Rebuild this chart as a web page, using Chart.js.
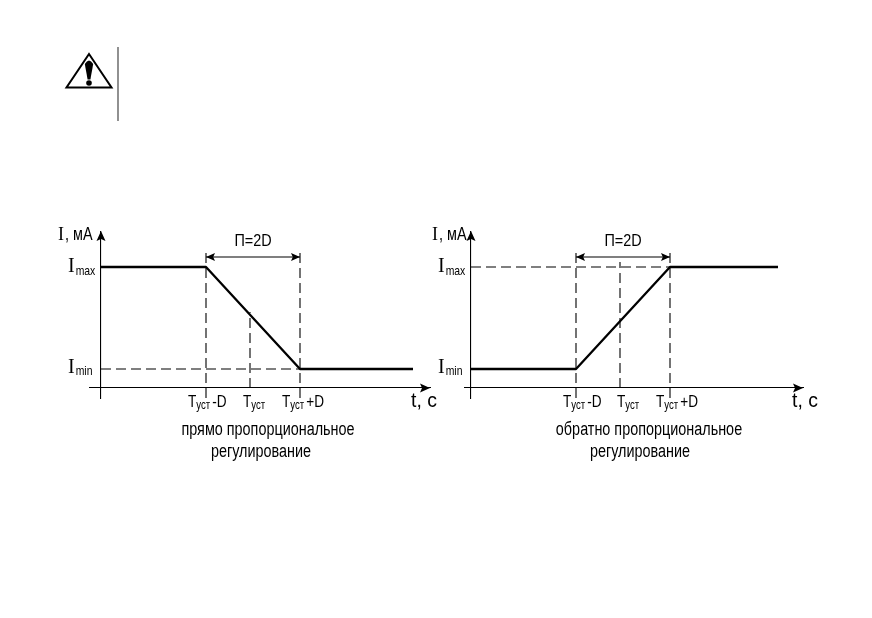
<!DOCTYPE html>
<html lang="ru">
<head>
<meta charset="utf-8">
<title>Регулирование</title>
<script src="https://cdn.jsdelivr.net/npm/chart.js@4"></script>
<style>
  html, body { margin: 0; background: #fff; }
  body { position: relative; width: 872px; height: 618px; overflow: hidden; }
  canvas { position: absolute; top: 210px; }
  #directChart { left: 40px; }
  #reverseChart { left: 425px; }
  #warning { position: absolute; left: 0; top: 0; }
</style>
</head>
<body>
<svg id="warning" width="140" height="130">
  <path d="M89 54 L111.500 87.500 L66.500 87.500 Z" fill="#fff" stroke="#000" stroke-width="2" stroke-linejoin="miter"/>
  <path d="M84.800 64 Q89 57 93.200 64 L90.400 79.500 L87.600 79.500 Z" fill="#000"/>
  <circle cx="89" cy="83" r="2.800" fill="#000"/>
  <line x1="118" y1="47" x2="118" y2="121" stroke="#555" stroke-width="1.300"/>
</svg>
<canvas id="directChart" width="400" height="260"></canvas>
<canvas id="reverseChart" width="400" height="260"></canvas>
<script>
// values are read off the picture, both axes have no real units
const IMIN = 19;
const IMAX = 121;
const T_LOW = 105;    // Tуст-D
const T_SET = 149;    // Tуст
const T_HIGH = 199;   // Tуст+D
const DIM_Y = 131;    // height of the П=2D arrow
const GUIDE_TOP = 138;
const GUIDE_BOTTOM = -10;

const directTimes = [0, T_LOW, T_HIGH, 312];
const directCurrent = [IMAX, IMAX, IMIN, IMIN];
const reverseTimes = [0, T_LOW, T_HIGH, 307];
const reverseCurrent = [IMIN, IMIN, IMAX, IMAX];

const xTickValues = [T_LOW, T_SET, T_HIGH];
const xTickLabels = ['-D', '', '+D'];
const captionsDirect = ['прямо пропорциональное', 'регулирование'];
const captionsReverse = ['обратно пропорциональное', 'регулирование'];

const INK = '#000';
const SANS = '"Liberation Sans", sans-serif';
const SERIF = '"Liberation Serif", serif';
const NARROW_X = 0.8; // the original font is condensed, none is installed

function pts(xs, ys) {
  return xs.map((x, i) => ({ x, y: ys[i] }));
}

function thick(data) {
  return { data, borderColor: INK, borderWidth: 2.3, pointRadius: 0, borderJoinStyle: 'round' };
}

function dashed(data) {
  return { data, borderColor: INK, borderWidth: 1.1, pointRadius: 0, borderDash: [10, 5] };
}

function thin(data) {
  return { data, borderColor: INK, borderWidth: 1.1, pointRadius: 0 };
}

// squeezed text, the anchor stays where textAlign puts it
function squeezed(ctx, text, x, y, sx) {
  ctx.save();
  ctx.translate(x, y);
  ctx.scale(sx, 1);
  ctx.fillText(text, 0, 0);
  ctx.restore();
}

// draws pieces of text one after another, for the subscripts
function drawRuns(ctx, x, y, runs) {
  runs.forEach((r) => {
    const sx = r.sx || NARROW_X;
    ctx.font = r.font;
    squeezed(ctx, r.text, x, y + (r.dy || 0), sx);
    x += ctx.measureText(r.text).width * sx + (r.gap || 0);
  });
}

function arrowHead(ctx, x, y, dx, dy, len, half) {
  ctx.beginPath();
  ctx.moveTo(x, y);
  ctx.lineTo(x - dx * len - dy * half, y - dy * len - dx * half);
  ctx.lineTo(x - dx * len * 0.8, y - dy * len * 0.8);
  ctx.lineTo(x - dx * len + dy * half, y - dy * len + dx * half);
  ctx.closePath();
  ctx.fill();
}

const schemePlugin = {
  id: 'scheme',
  afterDraw(chart, args, opts) {
    const { ctx, scales: { x, y } } = chart;
    const px = (v) => x.getPixelForValue(v);
    const py = (v) => y.getPixelForValue(v);
    ctx.save();
    ctx.fillStyle = INK;
    ctx.textBaseline = 'alphabetic';
    ctx.textAlign = 'left';

    // axis arrows
    arrowHead(ctx, x.right, py(0), 1, 0, 10, 4.5);
    arrowHead(ctx, px(0), y.top - 1, 0, -1, 10, 4.5);
    // П=2D dimension arrows
    arrowHead(ctx, px(T_LOW), py(DIM_Y), -1, 0, 9, 4);
    arrowHead(ctx, px(T_HIGH), py(DIM_Y), 1, 0, 9, 4);

    // y labels
    drawRuns(ctx, px(0) + opts.unitOffset, y.top + 8, [
      { text: 'I', font: '18px ' + SERIF, sx: 1, gap: 1 },
      { text: ', мА', font: '18px ' + SANS },
    ]);
    drawRuns(ctx, px(0) - 33, py(IMAX) + 5, [
      { text: 'I', font: '20px ' + SERIF, sx: 1, gap: 1 },
      { text: 'max', font: '13px ' + SANS, dy: 3 },
    ]);
    drawRuns(ctx, px(0) - 33, py(IMIN) + 4, [
      { text: 'I', font: '20px ' + SERIF, sx: 1, gap: 1 },
      { text: 'min', font: '13px ' + SANS, dy: 2 },
    ]);

    // x labels
    xTickValues.forEach((v, i) => {
      drawRuns(ctx, px(v) + opts.tickOffsets[i], py(0) + 19, [
        { text: 'T', font: '17px ' + SANS },
        { text: 'уст', font: '12px ' + SANS, dy: 2, gap: 2 },
        { text: xTickLabels[i], font: '17px ' + SANS },
      ]);
    });
    drawRuns(ctx, x.right + opts.timeOffset, py(0) + 19, [
      { text: 't, с', font: '20px ' + SANS, sx: 0.97 },
    ]);

    // П=2D and captions
    ctx.textAlign = 'center';
    ctx.font = '16px ' + SANS;
    squeezed(ctx, 'П=2D', px((T_LOW + T_HIGH) / 2), py(DIM_Y) - 11, 0.9);
    ctx.font = '18px ' + SANS;
    squeezed(ctx, opts.captions[0], px(T_SET) + opts.captionOffsets[0], py(0) + 47, NARROW_X);
    squeezed(ctx, opts.captions[1], px(T_SET) + opts.captionOffsets[1], py(0) + 69, NARROW_X);
    ctx.restore();
  },
};

function makeChart(id, panel) {
  new Chart(document.getElementById(id), {
    type: 'line',
    data: { datasets: panel.datasets },
    options: {
      responsive: false,
      animation: false,
      events: [],
      layout: { padding: panel.padding },
      plugins: {
        legend: { display: false },
        tooltip: { enabled: false },
        scheme: panel.scheme,
      },
      scales: {
        x: {
          type: 'linear',
          min: panel.xMin,
          max: panel.xMax,
          position: { y: 0 },
          grid: { display: false },
          ticks: { display: false },
          border: { color: INK, width: 1.1 },
        },
        y: {
          type: 'linear',
          min: GUIDE_BOTTOM,
          max: 156,
          position: { x: 0 },
          grid: { display: false },
          ticks: { display: false },
          border: { color: INK, width: 1.1 },
        },
      },
    },
    plugins: [schemePlugin],
  });
}

makeChart('directChart', {
  padding: { left: 50, right: 10, top: 22, bottom: 72 },
  xMin: -11,
  xMax: 329,
  datasets: [
    thick(pts(directTimes, directCurrent)),
    dashed(pts([0, T_HIGH], [IMIN, IMIN])),
    dashed(pts([T_LOW, T_LOW], [GUIDE_BOTTOM, GUIDE_TOP])),
    dashed(pts([T_SET, T_SET], [0, 76])),
    dashed(pts([T_HIGH, T_HIGH], [GUIDE_BOTTOM, GUIDE_TOP])),
    thin(pts([T_LOW, T_HIGH], [DIM_Y, DIM_Y])),
  ],
  scheme: {
    unitOffset: -43,
    tickOffsets: [-18, -7, -18],
    timeOffset: -19,
    captions: captionsDirect,
    captionOffsets: [18, 11],
  },
});

makeChart('reverseChart', {
  padding: { left: 40, right: 22, top: 22, bottom: 72 },
  xMin: -6,
  xMax: 332,
  datasets: [
    thick(pts(reverseTimes, reverseCurrent)),
    dashed(pts([0, T_HIGH], [IMAX, IMAX])),
    dashed(pts([T_LOW, T_LOW], [GUIDE_BOTTOM, GUIDE_TOP])),
    dashed(pts([T_SET, T_SET], [0, 126])),
    dashed(pts([T_HIGH, T_HIGH], [GUIDE_BOTTOM, GUIDE_TOP])),
    thin(pts([T_LOW, T_HIGH], [DIM_Y, DIM_Y])),
  ],
  scheme: {
    unitOffset: -39,
    tickOffsets: [-13, -3, -14],
    timeOffset: -11,
    captions: captionsReverse,
    captionOffsets: [29, 20],
  },
});
</script>
</body>
</html>
